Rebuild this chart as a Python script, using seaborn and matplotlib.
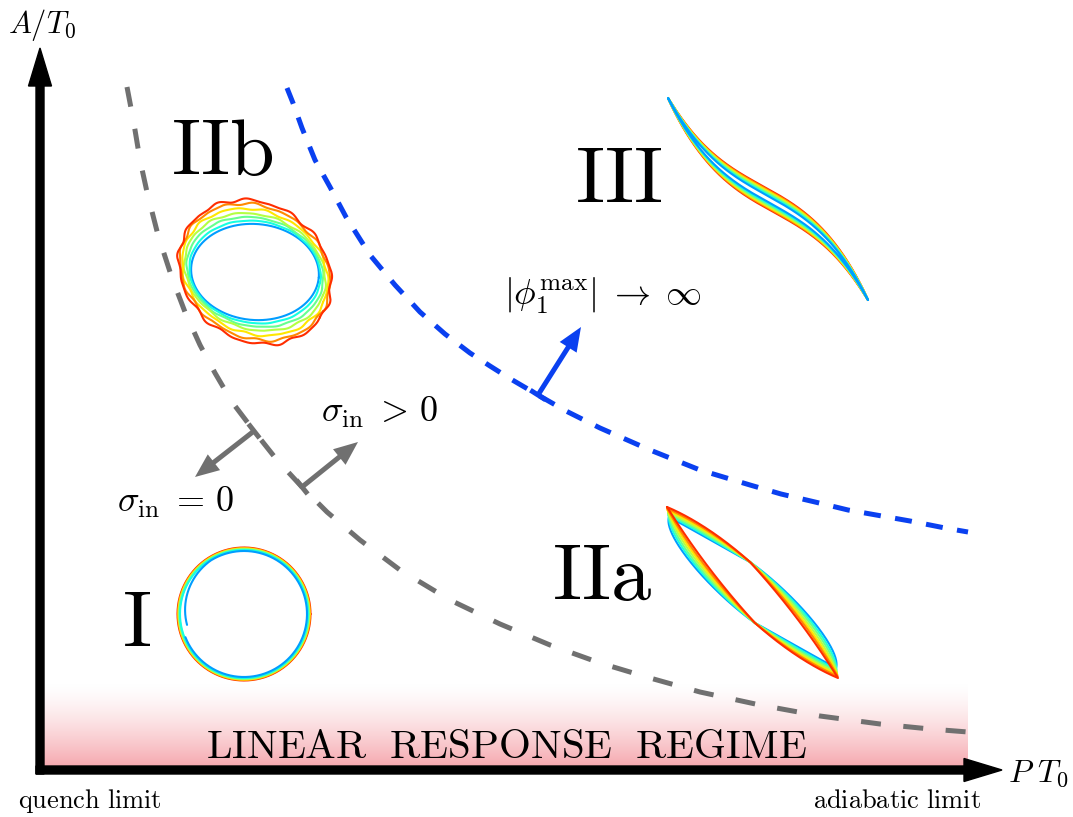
import numpy as np
import seaborn as sns
import matplotlib.pyplot as plt
from matplotlib.colors import LinearSegmentedColormap

sns.set_theme(style="white")
plt.rcParams['mathtext.fontset'] = 'cm'
plt.rcParams['font.family'] = ['DejaVu Serif']
plt.rcParams['text.color'] = 'black'

# dashed regime boundaries (pixel positions)
gray_x = [127, 131, 135, 140, 147, 158, 172, 185, 200, 215, 232, 254, 277, 302, 327, 360,
          400, 450, 500, 550, 600, 650, 700, 760, 820, 880, 930, 968]
gray_y = [87, 108, 130, 160, 192, 235, 278, 312, 345, 373, 402, 431, 460, 487, 512, 540,
          570, 600, 624, 645, 663, 678, 692, 705, 716, 724, 729, 732]
blue_x = [287, 293, 302, 315, 330, 346, 370, 395, 420, 445, 470, 490, 509, 538, 566, 600,
          650, 700, 750, 781, 815, 848, 910, 945, 968]
blue_y = [88, 103, 128, 160, 187, 217, 255, 285, 312, 334, 353, 366, 378, 395, 411, 428,
          450, 470, 485, 494, 502, 510, 521, 528, 532]

# loop families (blue -> red)
n_loops = 7
iib_a = [64, 66, 69, 72, 75, 78, 80]
iib_b = [48, 51, 54, 57, 61, 65, 68]
iib_tilt = [5, 9, 14, 19, 24, 30, 35]
iib_wobble = [0.0, 0.3, 0.6, 0.9, 1.2, 1.5, 1.9]
i_radius = [63, 64, 64.5, 65, 65.5, 66, 66.5]
iii_half = [3.0, 4.2, 5.4, 6.6, 7.8, 9.0, 10.0]
iia_blend = [0.0, 0.17, 0.33, 0.5, 0.67, 0.83, 1.0]

# IIa loop outline as four cubic pieces (innermost blue loop / outermost red loop)
iia_blue_ctrl = [[(669, 517), (697, 532), (724, 548), (750, 562)],
                 [(750, 562), (797, 596), (842, 650), (836, 668)],
                 [(836, 668), (808, 653), (781, 637), (755, 623)],
                 [(755, 623), (708, 589), (663, 535), (669, 517)]]
iia_red_ctrl = [[(667, 507), (693, 518), (722, 537), (750, 562)],
                [(750, 562), (782, 597), (812, 636), (838, 678)],
                [(838, 678), (812, 667), (783, 648), (755, 623)],
                [(755, 623), (723, 588), (693, 549), (667, 507)]]

region_labels = ['I', 'IIa', 'IIb', 'III']

jet = plt.get_cmap('jet')
loop_colors = [jet(v) for v in np.linspace(0.28, 0.86, n_loops)]
gray = '#707070'
blue = '#0a40f0'
lw_loop = 1.5

fig = plt.figure(figsize=(10.73, 8.17), dpi=100)
ax = fig.add_axes([0, 0, 1, 1])

# pink linear-response band
ramp = np.linspace(0, 1, 256).reshape(-1, 1) ** 1.4
pink = LinearSegmentedColormap.from_list('lr', ['#ffffff', '#f5a4ab'])
ax.imshow(ramp, cmap=pink, extent=(40, 968, 770, 683), aspect='auto', zorder=0)

# boundaries
sns.lineplot(x=gray_x, y=gray_y, sort=False, estimator=None, color=gray, lw=3.6,
             linestyle=(0, (4.0, 4.5)), ax=ax)
sns.lineplot(x=blue_x, y=blue_y, sort=False, estimator=None, color=blue, lw=3.6,
             linestyle=(0, (3.4, 2.9)), ax=ax)

t = np.linspace(0, 2 * np.pi, 600)

# IIb: wobbly tilted ellipses
for a, b, th, wob, c in zip(iib_a, iib_b, iib_tilt, iib_wobble, loop_colors):
    th = np.deg2rad(th)
    wiggle = wob * (0.6 * np.sin(13 * t + a) + 0.4 * np.sin(19 * t + 1.3 * b))
    aa = a + wiggle
    bb = b + wiggle
    xs = 255 + aa * np.cos(t) * np.cos(th) - bb * np.sin(t) * np.sin(th)
    ys = 272 + aa * np.cos(t) * np.sin(th) + bb * np.sin(t) * np.cos(th)
    sns.lineplot(x=xs, y=ys, sort=False, estimator=None, color=c, lw=lw_loop, ax=ax)

# I: near circles, the first one opens as a spiral
for k, (r, c) in enumerate(zip(i_radius[::-1], loop_colors[::-1])):
    rr = np.full_like(t, r)
    tt = t
    if k == n_loops - 1:
        tt = np.linspace(np.pi * 0.94, np.pi * 0.94 + 2 * np.pi * 0.97, 600)
        rr = r - 5 * np.clip(1 - (tt - tt[0]) / 1.2, 0, 1)
    xs = 244 + rr * np.cos(tt)
    ys = 614 + rr * np.sin(tt)
    sns.lineplot(x=xs, y=ys, sort=False, estimator=None, color=c, lw=lw_loop, ax=ax)

# III: thin S-shaped loops
u = np.cos(t)
for h, c in zip(iii_half[::-1], loop_colors[::-1]):
    f = 0.55 * u + 0.45 * u ** 3
    v = h * np.sin(t) * (1 - u ** 2) ** 0.3
    xs = 768 + 100 * u
    ys = 199 + 101 * f + v
    sns.lineplot(x=xs, y=ys, sort=False, estimator=None, color=c, lw=lw_loop, ax=ax)

# IIa: lens loops crossing in the middle
bz = np.linspace(0, 1, 80)[:, None]
blue_ctrl = np.array(iia_blue_ctrl, float)
red_ctrl = np.array(iia_red_ctrl, float)
for s, c in zip(iia_blend, loop_colors):
    ctrl = (1 - s) * blue_ctrl + s * red_ctrl
    pts = np.concatenate([(1 - bz) ** 3 * p[0] + 3 * (1 - bz) ** 2 * bz * p[1]
                          + 3 * (1 - bz) * bz ** 2 * p[2] + bz ** 3 * p[3] for p in ctrl])
    sns.lineplot(x=pts[:, 0], y=pts[:, 1], sort=False, estimator=None, color=c,
                 lw=lw_loop, ax=ax)

# axes
ax.arrow(40, 774, 0, 48 - 774, width=8, head_width=23, head_length=38,
         length_includes_head=True, fc='black', ec='black', zorder=5)
ax.arrow(36, 770, 1002 - 36, 0, width=8, head_width=23, head_length=38,
         length_includes_head=True, fc='black', ec='black', zorder=5)


def bar_arrow(tail, tip, color):
    tail = np.array(tail, float)
    tip = np.array(tip, float)
    d = (tip - tail) / np.hypot(*(tip - tail))
    n = np.array([-d[1], d[0]])
    ax.arrow(tail[0], tail[1], *(tip - tail), width=5, head_width=20, head_length=24,
             length_includes_head=True, fc=color, ec=color, lw=0, zorder=4)
    ends = np.array([tail - 9 * n, tail + 9 * n])
    ax.plot(ends[:, 0], ends[:, 1], color=color, lw=3.6, solid_capstyle='butt', zorder=4)


bar_arrow((254, 431), (195, 477), gray)
bar_arrow((302, 487), (358, 442), gray)
bar_arrow((538, 395), (581, 327), blue)

# texts
big = 58
ax.text(137, 646, r'$\mathrm{%s}$' % region_labels[0], fontsize=big, ha='center', va='baseline')
ax.text(602, 600, r'$\mathrm{%s}$' % region_labels[1], fontsize=big, ha='center', va='baseline')
ax.text(222, 175, r'$\mathrm{%s}$' % region_labels[2], fontsize=big, ha='center', va='baseline')
ax.text(619, 202, r'$\mathrm{%s}$' % region_labels[3], fontsize=big, ha='center', va='baseline')

ax.text(176, 512, r'$\sigma_{\rm in}\;=\,0$', fontsize=26, ha='center', va='baseline')
ax.text(380, 422, r'$\sigma_{\rm in}\;>\,0$', fontsize=26, ha='center', va='baseline')
ax.text(603, 296, r'$|\phi_1^{\rm max}|\;\rightarrow\;\infty$', fontsize=26,
        ha='center', va='center')

ax.text(42, 33, r'$A/T_0$', fontsize=22, ha='center', va='baseline')
ax.text(1038, 782, r'$P\ T_0$', fontsize=23, ha='center', va='baseline')
ax.text(90, 808, r'$\mathrm{quench\ limit}$', fontsize=19, ha='center', va='baseline')
ax.text(897, 808, r'$\mathrm{adiabatic\ limit}$', fontsize=19, ha='center', va='baseline')
ax.text(506, 758, r'$\mathrm{LINEAR\ \ RESPONSE\ \ REGIME}$', fontsize=29.5,
        ha='center', va='baseline', zorder=3)

ax.set_xlim(0, 1073)
ax.set_ylim(817, 0)
ax.axis('off')
fig.savefig('out.png', dpi=100)
